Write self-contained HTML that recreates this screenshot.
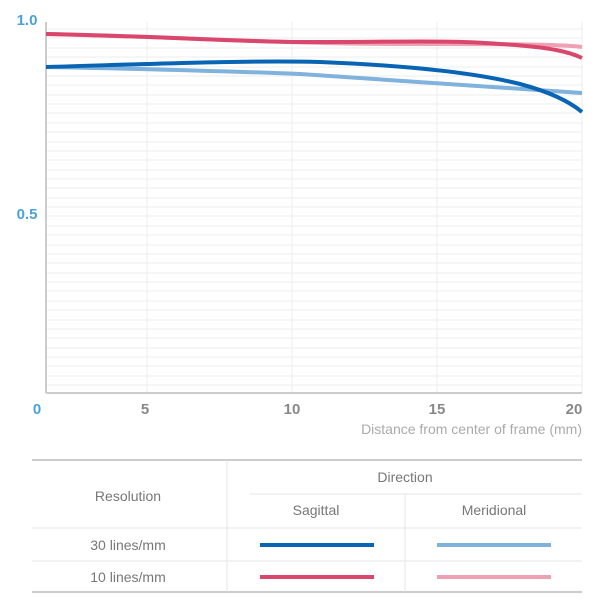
<!DOCTYPE html>
<html><head><style>
body{margin:0;background:#fff;width:600px;height:600px;overflow:hidden;font-family:"Liberation Sans",sans-serif}
</style></head><body>
<svg width="600" height="600" viewBox="0 0 600 600" xmlns="http://www.w3.org/2000/svg">
<g stroke="#eeeeee" stroke-width="1">
<line x1="46" x2="582" y1="29" y2="29"/><line x1="46" x2="582" y1="38" y2="38"/><line x1="46" x2="582" y1="48" y2="48"/><line x1="46" x2="582" y1="57" y2="57"/><line x1="46" x2="582" y1="67" y2="67"/><line x1="46" x2="582" y1="76" y2="76"/><line x1="46" x2="582" y1="85" y2="85"/><line x1="46" x2="582" y1="95" y2="95"/><line x1="46" x2="582" y1="104" y2="104"/><line x1="46" x2="582" y1="113" y2="113"/><line x1="46" x2="582" y1="123" y2="123"/><line x1="46" x2="582" y1="132" y2="132"/><line x1="46" x2="582" y1="142" y2="142"/><line x1="46" x2="582" y1="151" y2="151"/><line x1="46" x2="582" y1="160" y2="160"/><line x1="46" x2="582" y1="170" y2="170"/><line x1="46" x2="582" y1="179" y2="179"/><line x1="46" x2="582" y1="188" y2="188"/><line x1="46" x2="582" y1="198" y2="198"/><line x1="46" x2="582" y1="207" y2="207"/><line x1="46" x2="582" y1="216" y2="216"/><line x1="46" x2="582" y1="226" y2="226"/><line x1="46" x2="582" y1="235" y2="235"/><line x1="46" x2="582" y1="245" y2="245"/><line x1="46" x2="582" y1="254" y2="254"/><line x1="46" x2="582" y1="263" y2="263"/><line x1="46" x2="582" y1="273" y2="273"/><line x1="46" x2="582" y1="282" y2="282"/><line x1="46" x2="582" y1="291" y2="291"/><line x1="46" x2="582" y1="301" y2="301"/><line x1="46" x2="582" y1="310" y2="310"/><line x1="46" x2="582" y1="320" y2="320"/><line x1="46" x2="582" y1="329" y2="329"/><line x1="46" x2="582" y1="338" y2="338"/><line x1="46" x2="582" y1="348" y2="348"/><line x1="46" x2="582" y1="357" y2="357"/><line x1="46" x2="582" y1="366" y2="366"/><line x1="46" x2="582" y1="376" y2="376"/><line x1="46" x2="582" y1="385" y2="385"/>
<line x1="147" x2="147" y1="22" y2="393"/><line x1="292" x2="292" y1="22" y2="393"/><line x1="437" x2="437" y1="22" y2="393"/><line x1="582" x2="582" y1="22" y2="393"/>
</g>
<line x1="46" x2="46" y1="22" y2="393" stroke="#cccccc" stroke-width="2"/>
<line x1="46" x2="582" y1="393" y2="393" stroke="#cccccc" stroke-width="2"/>
<g fill="none" stroke-width="4" stroke-linecap="butt">
<path d="M46,67 C150,69 250,72 300,74 C400,80 500,88 582,93" stroke="#7fb2dc"/>
<path d="M46,34 C200,38 300,44 400,44 C500,44 560,44 582,47" stroke="#eea0b4"/>
<path d="M46,34 C150,36 250,42 300,42 C400,42 450,40 500,44 C550,47 570,52 582,58" stroke="#d9476d"/>
<path d="M46,67 C150,64 250,60 320,62 C420,66 480,74 520,84 C550,92 570,102 582,112" stroke="#0a64b4"/>
</g>
<g font-size="15" font-weight="bold" fill="#4aa3d8" text-anchor="middle">
<text x="27" y="25">1.0</text><text x="27" y="219">0.5</text><text x="37" y="414">0</text>
</g>
<g font-size="15" font-weight="bold" fill="#888" text-anchor="middle">
<text x="145" y="414">5</text><text x="292" y="414">10</text><text x="437" y="414">15</text><text x="574" y="414">20</text>
</g>
<text x="582" y="434" font-size="14" fill="#aaa" text-anchor="end">Distance from center of frame (mm)</text>
<g stroke="#cccccc">
<line x1="32" x2="582" y1="460" y2="460" stroke-width="2"/>
<line x1="32" x2="582" y1="592" y2="592" stroke-width="2"/>
<line x1="250" x2="582" y1="494" y2="494" stroke="#e5e5e5"/>
<line x1="32" x2="582" y1="528" y2="528" stroke="#e5e5e5"/>
<line x1="32" x2="582" y1="561" y2="561" stroke="#e5e5e5"/>
<line x1="227" x2="227" y1="460" y2="592" stroke="#e5e5e5"/>
<line x1="405" x2="405" y1="494" y2="592" stroke="#e5e5e5"/>
</g>
<g font-size="14" fill="#777" text-anchor="middle">
<text x="405" y="482">Direction</text>
<text x="128" y="501">Resolution</text>
<text x="316" y="515">Sagittal</text>
<text x="494" y="515">Meridional</text>
<text x="128" y="550">30 lines/mm</text>
<text x="128" y="582">10 lines/mm</text>
</g>
<g stroke-width="4">
<line x1="260" x2="374" y1="545" y2="545" stroke="#0a64b4"/>
<line x1="437" x2="551" y1="545" y2="545" stroke="#7fb2dc"/>
<line x1="260" x2="374" y1="577" y2="577" stroke="#d9476d"/>
<line x1="437" x2="551" y1="577" y2="577" stroke="#eea0b4"/>
</g>
</svg>
</body></html>
